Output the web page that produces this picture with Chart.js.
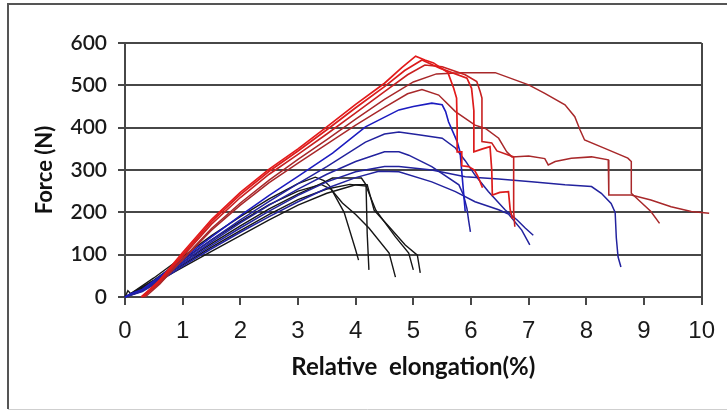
<!DOCTYPE html>
<html>
<head>
<meta charset="utf-8">
<script src="https://cdn.jsdelivr.net/npm/chart.js@4.4.0/dist/chart.umd.min.js"></script>
<style>
html,body{margin:0;padding:0;background:#fff;overflow:hidden}
#wrap{position:relative;width:727px;height:411px}
</style>
</head>
<body>
<div id="wrap"><canvas id="c" width="727" height="411"></canvas></div>
<script>
// ---- axis / labels ----
const xMin = 0, xMax = 10, xStep = 1;
const yMin = 0, yMax = 600, yStep = 100;
const xTitle = 'Relative  elongation(%)';
const yTitle = 'Force (N)';

// ---- red group (specimens with highest force) ----
const red1 = [[0.3,0],[0.6,40],[1.0,105],[1.5,183],[2.0,247],[2.5,302],[3.0,350],[3.5,402],[4.0,455],[4.5,505],[4.8,542],[5.04,569],[5.2,560],[5.35,553],[5.6,530],[5.7,493],[5.75,470],[5.76,400],[5.76,343],[5.84,343],[5.84,310],[5.96,308],[6.06,300],[6.12,285],[6.2,258]];
const red2 = [[0.28,0],[0.6,38],[1.0,100],[1.5,178],[2.0,242],[2.5,297],[3.0,345],[3.5,395],[4.0,447],[4.5,497],[4.85,535],[5.15,560],[5.47,540],[5.93,517],[6.01,493],[6.05,440],[6.05,343],[6.2,350],[6.33,355],[6.36,300],[6.37,241],[6.5,247],[6.65,249],[6.68,206],[6.72,185]];
const red3 = [[0.32,0],[0.6,35],[1.0,96],[1.5,172],[2.0,235],[2.5,290],[3.0,337],[3.5,385],[4.0,435],[4.5,485],[4.9,525],[5.2,548],[5.5,544],[5.9,525],[6.1,509],[6.16,485],[6.19,470],[6.19,367],[6.36,364],[6.45,345],[6.6,338],[6.74,331],[6.74,202],[6.76,166]];
const red4 = [[0.35,0],[0.6,30],[1.0,90],[1.5,162],[2.0,222],[2.5,276],[3.0,325],[3.5,372],[4.0,420],[4.5,467],[5.0,508],[5.4,527],[5.84,530],[6.42,530],[7.0,501],[7.28,481],[7.63,454],[7.8,426],[7.89,395],[7.97,371],[8.32,351],[8.72,328],[8.78,320],[8.78,245],[9.12,202],[9.27,174]];
const red5 = [[0.3,0],[0.6,32],[1.0,88],[1.5,158],[2.0,217],[2.5,270],[3.0,316],[3.5,361],[4.0,406],[4.5,448],[4.9,480],[5.15,490],[5.44,477],[5.73,438],[6.07,406],[6.25,398],[6.48,375],[6.62,343],[6.71,331],[7.0,333],[7.28,327],[7.34,312],[7.46,320],[7.74,328],[8.09,331],[8.38,324],[8.39,241],[8.78,241],[9.12,229],[9.47,213],[9.82,202],[10.13,198]];

// ---- blue group ----
const blue1 = [[0,0],[0.1,8],[0.3,18],[0.6,48],[1.0,90],[1.5,142],[2.0,192],[2.5,240],[3.0,285],[3.6,340],[4.17,402],[4.75,442],[5.0,450],[5.32,458],[5.5,454],[5.56,438],[5.61,414],[5.76,367],[5.81,343],[5.84,296],[5.87,249],[5.9,202]];
const blue2 = [[0,0],[0.3,16],[0.6,45],[1.0,86],[1.5,135],[2.0,182],[2.5,226],[3.0,268],[3.5,308],[4.17,366],[4.5,385],[4.75,390],[5.09,383],[5.5,375],[5.73,352],[5.9,322],[6.07,288],[6.3,249],[6.59,206],[6.8,182],[6.94,163],[7.08,146]];
const blue3 = [[0,0],[0.3,15],[0.6,42],[1.0,82],[1.5,130],[2.0,175],[2.5,217],[3.0,255],[3.5,290],[4.0,320],[4.5,343],[4.75,343],[4.92,335],[5.32,308],[5.79,265],[5.87,241],[5.93,209],[5.96,180],[5.99,154]];
const blue4 = [[0,0],[0.3,14],[0.6,40],[1.0,78],[1.5,122],[2.0,163],[2.5,203],[3.0,240],[3.5,272],[4.0,296],[4.5,308],[4.75,308],[5.32,300],[5.9,284],[6.48,279],[7.05,272],[7.63,265],[8.09,261],[8.26,245],[8.43,221],[8.5,200],[8.52,140],[8.55,95],[8.6,71]];
const blue5 = [[0,0],[0.3,13],[0.6,37],[1.0,73],[1.5,114],[2.0,153],[2.5,190],[3.0,225],[3.5,257],[4.0,282],[4.4,297],[4.75,296],[5.32,272],[5.73,249],[6.07,225],[6.48,206],[6.65,196],[6.88,158],[7.02,123]];

// ---- black group ----
const black1 = [[0,0],[0.05,15],[0.1,8],[0.5,45],[1,95],[1.5,145],[2,190],[2.5,232],[3,268],[3.3,283],[3.45,275],[3.55,262],[3.8,200],[4.0,111],[4.05,87]];
const black2 = [[0,0],[0.5,40],[1,88],[1.5,135],[2,178],[2.5,218],[3,250],[3.4,266],[3.57,255],[3.77,222],[4.0,195],[4.23,163],[4.58,104],[4.69,47]];
const black3 = [[0,0],[0.5,38],[1,82],[1.5,126],[2,168],[2.5,208],[3,243],[3.4,268],[3.6,281],[4.1,281],[4.18,265],[4.2,150],[4.23,64]];
const black4 = [[0,0],[0.5,35],[1,76],[1.5,118],[2,157],[2.5,195],[3,230],[3.5,255],[3.9,266],[4.18,262],[4.35,205],[4.69,142],[4.92,104],[5.0,64]];
const black5 = [[0,0],[0.5,32],[1,70],[1.5,108],[2,145],[2.5,182],[3,217],[3.5,245],[4.0,265],[4.2,265],[4.32,205],[4.58,166],[4.86,123],[5.07,99],[5.12,57]];

const curves = [
  {d: red1, c: '#e31a1a', w: 1.7}, {d: red2, c: '#dc1c1c', w: 1.7}, {d: red3, c: '#c82020', w: 1.6},
  {d: red4, c: '#a8282a', w: 1.5}, {d: red5, c: '#a8282a', w: 1.5},
  {d: blue1, c: '#1c1cc0', w: 1.6}, {d: blue2, c: '#22229e', w: 1.5}, {d: blue3, c: '#22229e', w: 1.5},
  {d: blue4, c: '#22229e', w: 1.5}, {d: blue5, c: '#22229e', w: 1.5},
  {d: black1, c: '#161616', w: 1.4}, {d: black2, c: '#161616', w: 1.4}, {d: black3, c: '#161616', w: 1.4},
  {d: black4, c: '#161616', w: 1.4}, {d: black5, c: '#161616', w: 1.4}
];

const GRID = '#474747';

const framePlugin = {
  id: 'frame',
  beforeDraw(chart) {
    const ctx = chart.ctx;
    ctx.save();
    ctx.fillStyle = '#fff';
    ctx.fillRect(0, 0, chart.width, chart.height);
    ctx.strokeStyle = '#cfcfcf';
    ctx.lineWidth = 1;
    ctx.beginPath(); ctx.moveTo(8, 409.5); ctx.lineTo(chart.width, 409.5); ctx.stroke();
    ctx.strokeStyle = '#555';
    ctx.lineWidth = 2;
    ctx.beginPath(); ctx.moveTo(8, 409); ctx.lineTo(8, 4); ctx.lineTo(chart.width, 4); ctx.stroke();
    ctx.restore();
  }
};

new Chart(document.getElementById('c'), {
  type: 'line',
  data: {
    datasets: curves.map(k => ({
      data: k.d.map(p => ({x: p[0], y: p[1]})),
      borderColor: k.c,
      borderWidth: k.w,
      pointRadius: 0,
      tension: 0,
      fill: false,
      clip: {left: 2, top: 2, right: 14, bottom: 2}
    }))
  },
  options: {
    responsive: false,
    animation: false,
    devicePixelRatio: 1,
    layout: {padding: {top: 43, right: 23, left: 0, bottom: 0}},
    plugins: {legend: {display: false}, tooltip: {enabled: false}},
    scales: {
      x: {
        type: 'linear', min: xMin, max: xMax,
        afterFit: s => { s.height = 114; },
        ticks: {stepSize: xStep, padding: 12, color: '#1a1a1a',
          font: {family: "'Liberation Sans Narrow', 'Arial Narrow', 'Liberation Sans', sans-serif", size: 24}},
        grid: {
          color: c => (c.tick && c.tick.value === xMax) ? GRID : 'rgba(0,0,0,0)',
          tickColor: GRID, lineWidth: 2, tickLength: 8, drawOnChartArea: true
        },
        border: {display: true, color: GRID, width: 2},
        title: {display: true, text: xTitle, color: '#111',
          font: {family: 'Lato, sans-serif', size: 24, weight: 'bold'},
          padding: {top: 0, bottom: 29}}
      },
      y: {
        min: yMin, max: yMax,
        afterFit: s => { s.width = 125; },
        ticks: {stepSize: yStep, padding: 11, color: '#1a1a1a',
          font: {family: 'Lato, sans-serif', size: 21, weight: '600'}},
        grid: {color: GRID, lineWidth: 2, tickLength: 7, tickColor: GRID},
        border: {display: true, color: GRID, width: 2},
        title: {display: true, text: yTitle, color: '#111',
          font: {family: 'Lato, sans-serif', size: 22, weight: 'bold'},
          padding: {top: 32, bottom: 0}}
      }
    }
  },
  plugins: [framePlugin]
});
</script>
</body>
</html>
